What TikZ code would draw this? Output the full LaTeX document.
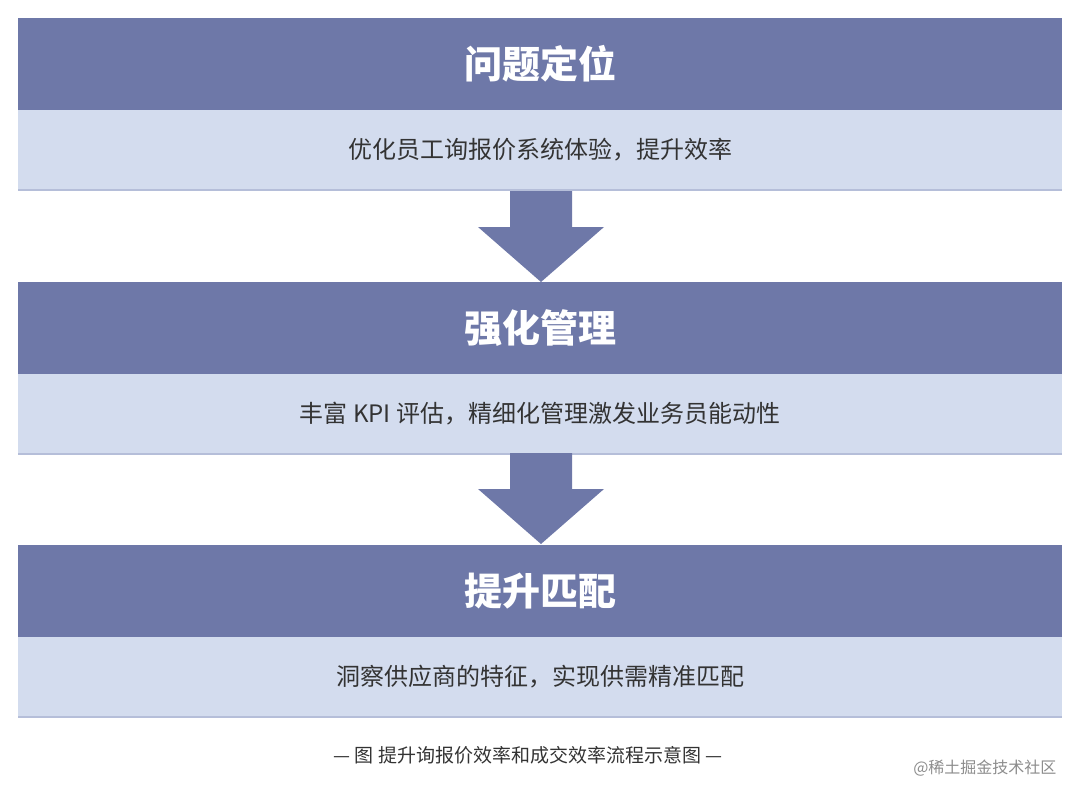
\documentclass[tikz,border=0pt]{standalone}
\usepackage{fontspec}
\setmainfont{Noto Sans CJK SC}
\usetikzlibrary{positioning}
\definecolor{headblue}{HTML}{6E78A8}
\definecolor{subblue}{HTML}{D3DCEE}
\tikzset{
  head/.style={fill=headblue, draw=none},
  sub/.style={fill=subblue, draw=none},
  headtext/.style={text=white, font=\fontsize{38}{40}\selectfont\bfseries},
  subtext/.style={text=black!80, font=\fontsize{24}{28}\selectfont},
  downarrow/.style={fill=headblue, draw=none}
}
\begin{document}
\begin{tikzpicture}[x=1pt,y=-1pt]
  \useasboundingbox (0,0) rectangle (1080,800);
  % stages
  \foreach \top/\title/\body [count=\i] in {
      18/问题定位/{优化员工询报价系统体验，提升效率},
      282/强化管理/{丰富 KPI 评估，精细化管理激发业务员能动性},
      545/提升匹配/{洞察供应商的特征，实现供需精准匹配}} {
    \fill[head] (18,\top) rectangle (1062,\top+92);
    \fill[sub] (18,\top+92) rectangle (1062,\top+172);
    \draw[subblue!70!headblue, line width=1.5] (18,\top+172) -- (1062,\top+172);
    \node[headtext] (title\i) at (540,\top+46) {\title};
    \node[subtext] (body\i) at (540,\top+132) {\body};
  }
  % arrows between stages
  \foreach \top in {191,453} {
    \fill[downarrow] (510,\top) -- (572,\top) -- (572,\top+36) -- (604,\top+36)
      -- (541,\top+91) -- (478,\top+36) -- (510,\top+36) -- cycle;
  }
  \node[font=\fontsize{19}{22}\selectfont, text=black!80] (caption) at (528,755) {— 图 提升询报价效率和成交效率流程示意图 —};
  \node[font=\fontsize{16}{18}\selectfont, text=black!45, anchor=east] (mark) at (1060,768) {@稀土掘金技术社区};
\end{tikzpicture}
\end{document}
